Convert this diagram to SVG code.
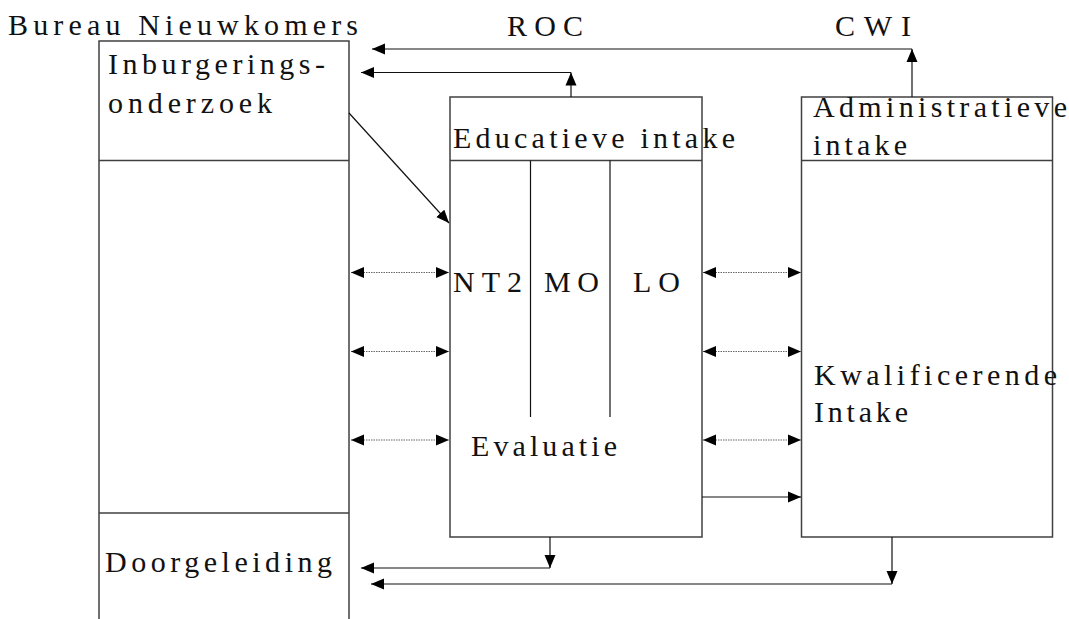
<svg xmlns="http://www.w3.org/2000/svg" width="1069" height="619" viewBox="0 0 1069 619">
<style>
.box{fill:none;stroke:#404040;stroke-width:1.5}
.t{font-family:"Liberation Serif","Times New Roman",serif;font-size:30px;fill:#111}
.c{fill:none;stroke:#111;stroke-width:1.2}
.d{fill:none;stroke:#666;stroke-width:1.2;stroke-dasharray:1.5 1}
</style>
<defs>
<marker id="ah" markerUnits="userSpaceOnUse" markerWidth="14" markerHeight="12" refX="13" refY="6" orient="auto-start-reverse">
<path d="M0,0.5 L13,6 L0,11.5 Z" fill="#000"/>
</marker>
</defs>
<rect width="1069" height="619" fill="#fff"/>
<g id="bureau">
<polyline class="box" points="99,619 99,41 349,41 349,619"/>
<line class="box" x1="99" y1="160.5" x2="349" y2="160.5"/>
<line class="box" x1="99" y1="513" x2="349" y2="513"/>
<text class="t" x="8" y="35" textLength="350" lengthAdjust="spacing">Bureau Nieuwkomers</text>
<text class="t" x="108" y="74" textLength="217" lengthAdjust="spacing">Inburgerings-</text>
<text class="t" x="108" y="113" textLength="164" lengthAdjust="spacing">onderzoek</text>
<text class="t" x="105" y="572" textLength="227" lengthAdjust="spacing">Doorgeleiding</text>
</g>
<g id="roc">
<text class="t" x="507" y="36" textLength="76" lengthAdjust="spacing">ROC</text>
</g>
<g id="cwi">
<text class="t" x="835" y="36" textLength="76" lengthAdjust="spacing">CWI</text>
</g>
<g id="educatief">
<rect class="box" x="450" y="97" width="252" height="440"/>
<line class="box" x1="450" y1="160.5" x2="702" y2="160.5"/>
<line class="c" x1="530.5" y1="160.5" x2="530.5" y2="417"/>
<line class="c" x1="610" y1="160.5" x2="610" y2="417"/>
<text class="t" x="453" y="148" textLength="282" lengthAdjust="spacing">Educatieve intake</text>
<text class="t" x="453" y="292" textLength="69" lengthAdjust="spacing">NT2</text>
<text class="t" x="544" y="292" textLength="55" lengthAdjust="spacing">MO</text>
<text class="t" x="633" y="292" textLength="47" lengthAdjust="spacing">LO</text>
<text class="t" x="471" y="456" textLength="146" lengthAdjust="spacing">Evaluatie</text>
</g>
<g id="administratief">
<rect class="box" x="801.5" y="97" width="251" height="440"/>
<line class="box" x1="801.5" y1="160.5" x2="1052.5" y2="160.5"/>
<text class="t" x="813" y="117" textLength="254" lengthAdjust="spacing">Administratieve</text>
<text class="t" x="813" y="155" textLength="94" lengthAdjust="spacing">intake</text>
<text class="t" x="814" y="385" textLength="243" lengthAdjust="spacing">Kwalificerende</text>
<text class="t" x="814" y="422" textLength="94" lengthAdjust="spacing">Intake</text>
</g>
<g id="connectors">
<line class="c" x1="912" y1="97" x2="912" y2="49" marker-end="url(#ah)"/>
<line class="c" x1="912" y1="49" x2="372" y2="49" marker-end="url(#ah)"/>
<line class="c" x1="571" y1="97" x2="571" y2="72.5" marker-end="url(#ah)"/>
<line class="c" x1="571" y1="72.5" x2="361" y2="72.5" marker-end="url(#ah)"/>
<line class="c" x1="349" y1="113" x2="449" y2="223" marker-end="url(#ah)"/>
<line class="d" x1="351" y1="272.5" x2="449" y2="272.5" marker-start="url(#ah)" marker-end="url(#ah)"/>
<line class="d" x1="351" y1="351.5" x2="449" y2="351.5" marker-start="url(#ah)" marker-end="url(#ah)"/>
<line class="d" x1="351" y1="440" x2="449" y2="440" marker-start="url(#ah)" marker-end="url(#ah)"/>
<line class="d" x1="703" y1="272.5" x2="801" y2="272.5" marker-start="url(#ah)" marker-end="url(#ah)"/>
<line class="d" x1="703" y1="351.5" x2="801" y2="351.5" marker-start="url(#ah)" marker-end="url(#ah)"/>
<line class="d" x1="703" y1="440" x2="801" y2="440" marker-start="url(#ah)" marker-end="url(#ah)"/>
<line class="c" x1="702" y1="497" x2="801" y2="497" marker-end="url(#ah)"/>
<line class="c" x1="550" y1="537" x2="550" y2="568" marker-end="url(#ah)"/>
<line class="c" x1="550" y1="568" x2="361" y2="568" marker-end="url(#ah)"/>
<line class="c" x1="892" y1="537" x2="892" y2="584" marker-end="url(#ah)"/>
<line class="c" x1="892" y1="584" x2="371" y2="584" marker-end="url(#ah)"/>
</g>
</svg>
